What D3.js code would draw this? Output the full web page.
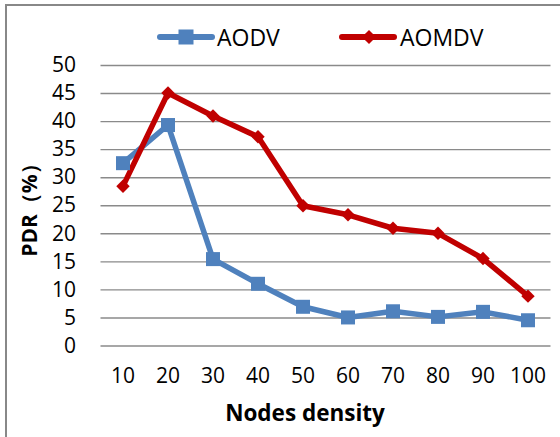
<!DOCTYPE html>
<html><head><meta charset="utf-8">
<script src="https://cdn.jsdelivr.net/npm/d3@7"></script>
<style>body{margin:0;background:#fff}svg{display:block}text{font-family:"Open Sans",Carlito,Calibri,sans-serif}</style>
</head><body><svg id="c" width="560" height="437"></svg>
<script>
const categories = ["10","20","30","40","50","60","70","80","90","100"];
const aodv = [32.5, 39.3, 15.4, 11.0, 6.9, 5.0, 6.1, 5.1, 6.0, 4.5];
const aomdv = [28.4, 45.0, 40.9, 37.2, 24.9, 23.3, 20.9, 20.0, 15.5, 8.8];
const yTicks = [0,5,10,15,20,25,30,35,40,45,50];
const seriesNames = ["AODV","AOMDV"];
const FONT = '"Open Sans",Carlito,Calibri,sans-serif';

const svg = d3.select("#c");
svg.append("rect").attr("x",6).attr("y",5).attr("width",600).attr("height",500)
  .attr("fill","#fff").attr("stroke","#888").attr("stroke-width",2);

const x = d3.scaleBand().domain(categories).range([100.5,550.5]);
const y = d3.scaleLinear().domain([0,50]).range([345.5,65]);

const grid = d3.axisLeft(y).tickValues(yTicks).tickSize(-(550.5-100.5)).tickFormat("");
const gg = svg.append("g").attr("transform","translate(100.5,0)").call(grid);
gg.select(".domain").remove();
gg.selectAll("line").attr("stroke","#8a8a8a").attr("stroke-width",1.4);

const ya = d3.axisLeft(y).tickValues(yTicks).tickSize(0).tickPadding(0);
const yg = svg.append("g").attr("transform","translate(76,0)").call(ya);
yg.select(".domain").remove();
yg.selectAll("text").attr("font-size",21).attr("fill","#000").style("font-family",FONT);

const xa = d3.axisBottom(x).tickSize(0).tickPadding(0);
const xg = svg.append("g").attr("transform","translate(0,368)").call(xa);
xg.select(".domain").remove();
xg.selectAll("text").attr("font-size",21).attr("fill","#000").style("font-family",FONT);

const cx = d => x(d) + x.bandwidth()/2;
const line = d3.line().x((d,i)=>cx(categories[i])).y(d=>y(d));

const blue = "#4F81BD", red = "#C00000";
svg.append("path").datum(aodv).attr("d",line).attr("fill","none").attr("stroke",blue).attr("stroke-width",5.5).attr("stroke-linejoin","round");
svg.append("path").datum(aomdv).attr("d",line).attr("fill","none").attr("stroke",red).attr("stroke-width",5.5).attr("stroke-linejoin","round");

svg.selectAll(".sq").data(aodv).enter().append("rect")
  .attr("x",(d,i)=>cx(categories[i])-7).attr("y",d=>y(d)-7).attr("width",14).attr("height",14).attr("fill",blue);
svg.selectAll(".dm").data(aomdv).enter().append("path")
  .attr("d",d3.symbol().type(d3.symbolSquare).size(90))
  .attr("transform",(d,i)=>`translate(${cx(categories[i])},${y(d)}) rotate(45)`).attr("fill",red);

const lg = svg.append("g");
lg.append("line").attr("x1",160).attr("x2",212).attr("y1",37).attr("y2",37).attr("stroke",blue).attr("stroke-width",6).attr("stroke-linecap","round");
lg.append("rect").attr("x",178.5).attr("y",29.5).attr("width",15).attr("height",15).attr("fill",blue);
lg.append("text").attr("x",217).attr("y",46).attr("font-size",23).text(seriesNames[0]);
lg.append("line").attr("x1",342).attr("x2",394).attr("y1",37).attr("y2",37).attr("stroke",red).attr("stroke-width",6).attr("stroke-linecap","round");
lg.append("path").attr("d",d3.symbol().type(d3.symbolSquare).size(100)).attr("transform","translate(369,37) rotate(45)").attr("fill",red);
lg.append("text").attr("x",400).attr("y",46).attr("font-size",23).text(seriesNames[1]);

svg.append("text").attr("x",305).attr("y",421).attr("text-anchor","middle").attr("font-size",22.5).attr("font-weight","bold").text("Nodes density");
svg.append("text").attr("transform","translate(37,205) rotate(-90)").attr("text-anchor","middle").attr("font-size",21).attr("font-weight","bold").text("PDR（%）");
</script></body></html>
